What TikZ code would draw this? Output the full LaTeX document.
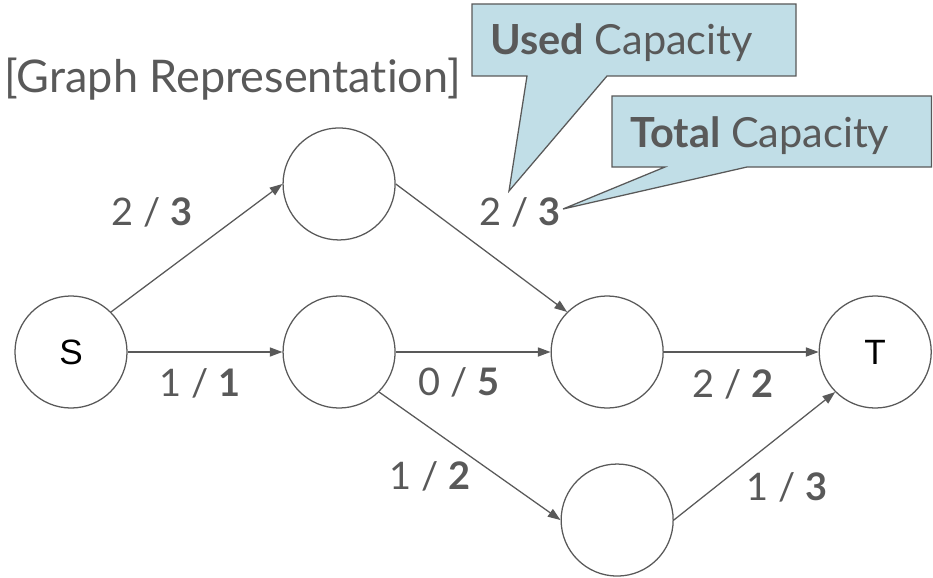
\documentclass[tikz,border=0pt]{standalone}
\usepackage{fontspec}
\setmainfont{Lato}[Ligatures=NoCommon]
\newfontfamily\letterfont{Liberation Sans}
\usetikzlibrary{positioning,arrows.meta}
\definecolor{inkgray}{RGB}{89,89,89}
\definecolor{calloutblue}{RGB}{193,222,231}

\begin{document}
\begin{tikzpicture}[x=0.025cm,y=-0.025cm,node distance=6.7cm,on grid,
    vertex/.style={circle,draw=inkgray,line width=0.9pt,minimum size=2.8cm,inner sep=0pt,
      font=\letterfont\fontsize{25}{30}\selectfont},
    flow/.style={text=inkgray,anchor=base,inner sep=0pt,font=\fontsize{27}{32}\selectfont},
    note/.style={text=inkgray,anchor=base west,inner sep=0pt,font=\fontsize{29.5}{35}\selectfont},
    bubble/.style={fill=calloutblue,draw=inkgray,line width=0.9pt,line join=miter},
    pipe/.style={inkgray,line width=0.9pt,-{Triangle[length=9pt,width=6.5pt]}}]
   \useasboundingbox (0,0) rectangle (933,578);
   \node[note,font=\fontsize{32}{38}\selectfont] (title) at (4,92) {[Graph Representation]};
   \node[vertex] (n_s) at (71,352) {S};
   \node[vertex] (n_b) [right=of n_s] {};
   \node[vertex] (n_c) [right=of n_b] {};
   \node[vertex] (n_t) [right=of n_c] {T};
   \node[vertex] (n_a) [above=4.2cm of n_b] {};
   \node[vertex] (n_d) [below=4.2cm of n_c,xshift=0.25cm] {};
    \path[pipe]
    (n_s.north east) edge (n_a.west)
    (n_s) edge (n_b)
    (n_a.east) edge (n_c.north west)
    (n_b) edge (n_c)
    (n_b.south east) edge (n_d.west)
    (n_c) edge (n_t)
    (n_d.east) edge (n_t.south west);
   \node[flow] (l_sa) at (152,225) {2 / \textbf{3}};
   \node[flow] (l_sb) at (200,396) {1 / \textbf{1}};
   \node[flow] (l_ac) at (520,225) {2 / \textbf{3}};
   \node[flow] (l_bc) at (459,395) {0 / \textbf{5}};
   \node[flow] (l_bd) at (430,489) {1 / \textbf{2}};
   \node[flow] (l_ct) at (733,397) {2 / \textbf{2}};
   \node[flow] (l_dt) at (787,500) {1 / \textbf{3}};
   \coordinate (p_used) at (509,191);
   \coordinate (p_total) at (563,209);
   \filldraw[bubble] (472,4) -- (796,4) -- (796,76) -- (607,76) -- (p_used) -- (527,76) -- (472,76) -- cycle;
   \filldraw[bubble] (612,96) -- (931.5,96) -- (931.5,167) -- (747,167) -- (p_total) -- (665,167) -- (612,167) -- cycle;
   \node[note] (c_used) at (490,55) {\textbf{Used} Capacity};
   \node[note] (c_total) at (630,147) {\textbf{Total} Capacity};
\end{tikzpicture}
\end{document}
